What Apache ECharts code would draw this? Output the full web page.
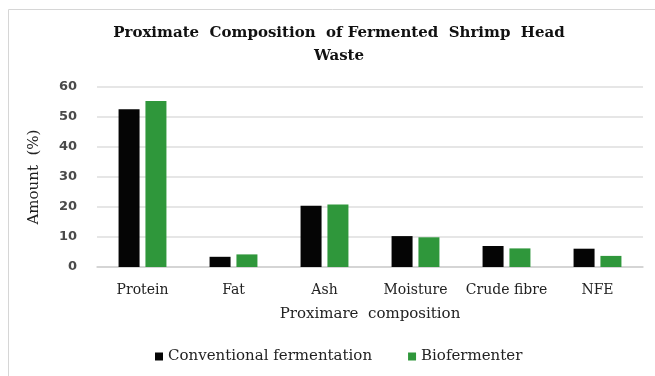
<!DOCTYPE html>
<html>
<head>
<meta charset="utf-8">
<script src="https://cdn.jsdelivr.net/npm/echarts@6/dist/echarts.min.js"></script>
<style>
  html, body { margin: 0; padding: 0; background: #ffffff; }
  #chart { width: 655px; height: 376px; }
</style>
</head>
<body>
<div id="chart"></div>
<script>
// Proximate composition (%) of fermented shrimp head waste
const categories = ['Protein', 'Fat', 'Ash', 'Moisture', 'Crude fibre', 'NFE'];
const conventional = [52.6, 3.4, 20.4, 10.3, 7.0, 6.1];
const biofermenter = [55.3, 4.2, 20.8, 9.9, 6.2, 3.7];
const yTicks = [0, 10, 20, 30, 40, 50, 60];

const serif = "'DejaVu Serif', 'Liberation Serif', serif";

const chart = echarts.init(document.getElementById('chart'), null, { renderer: 'canvas' });

chart.setOption({
  backgroundColor: '#ffffff',
  animation: false,
  graphic: [{
    type: 'rect',
    shape: { x: 8.5, y: 9.5, width: 700, height: 400 },
    style: { fill: 'none', stroke: '#d6d6d6', lineWidth: 1 },
    silent: true,
    z: -1
  }],
  title: {
    text: 'Proximate  Composition  of Fermented  Shrimp  Head\nWaste',
    left: 334,
    top: 17,
    textAlign: 'center',
    textStyle: {
      fontFamily: serif,
      fontWeight: 'bold',
      fontSize: 15,
      lineHeight: 23,
      color: '#111111'
    }
  },
  legend: {
    data: ['Conventional fermentation', 'Biofermenter'],
    left: 150,
    top: 344,
    icon: 'rect',
    itemWidth: 8,
    itemHeight: 8,
    itemGap: 36,
    textStyle: { fontFamily: serif, fontSize: 15, color: '#222222' }
  },
  grid: { left: 97, right: 12, top: 87, bottom: 109, containLabel: false },
  xAxis: {
    type: 'category',
    data: categories,
    name: 'Proximare  composition',
    nameLocation: 'middle',
    nameGap: 40,
    nameTextStyle: { fontFamily: serif, fontSize: 15, color: '#222222' },
    axisLine: { lineStyle: { color: '#d0d0d0', width: 1.5 } },
    axisTick: { show: false },
    axisLabel: { interval: 0, fontFamily: serif, fontSize: 14, color: '#222222', margin: 16 }
  },
  yAxis: {
    type: 'value',
    min: yTicks[0],
    max: yTicks[yTicks.length - 1],
    interval: yTicks[1] - yTicks[0],
    name: 'Amount  (%)',
    nameLocation: 'middle',
    nameGap: 55,
    nameRotate: 90,
    nameTextStyle: { fontFamily: serif, fontSize: 15, color: '#222222' },
    axisLine: { show: false },
    axisTick: { show: false },
    axisLabel: {
      fontFamily: "'DejaVu Sans', 'Liberation Sans', sans-serif",
      fontWeight: 'bold',
      fontSize: 13,
      color: '#4a4a4a',
      margin: 20
    },
    splitLine: { lineStyle: { color: '#dedede', width: 1.5 } }
  },
  series: [
    {
      name: 'Conventional fermentation',
      type: 'bar',
      data: conventional,
      barWidth: 21,
      barGap: '28%',
      itemStyle: { color: '#050505' }
    },
    {
      name: 'Biofermenter',
      type: 'bar',
      data: biofermenter,
      barWidth: 21,
      itemStyle: { color: '#2f973b' }
    }
  ]
});
</script>
</body>
</html>
